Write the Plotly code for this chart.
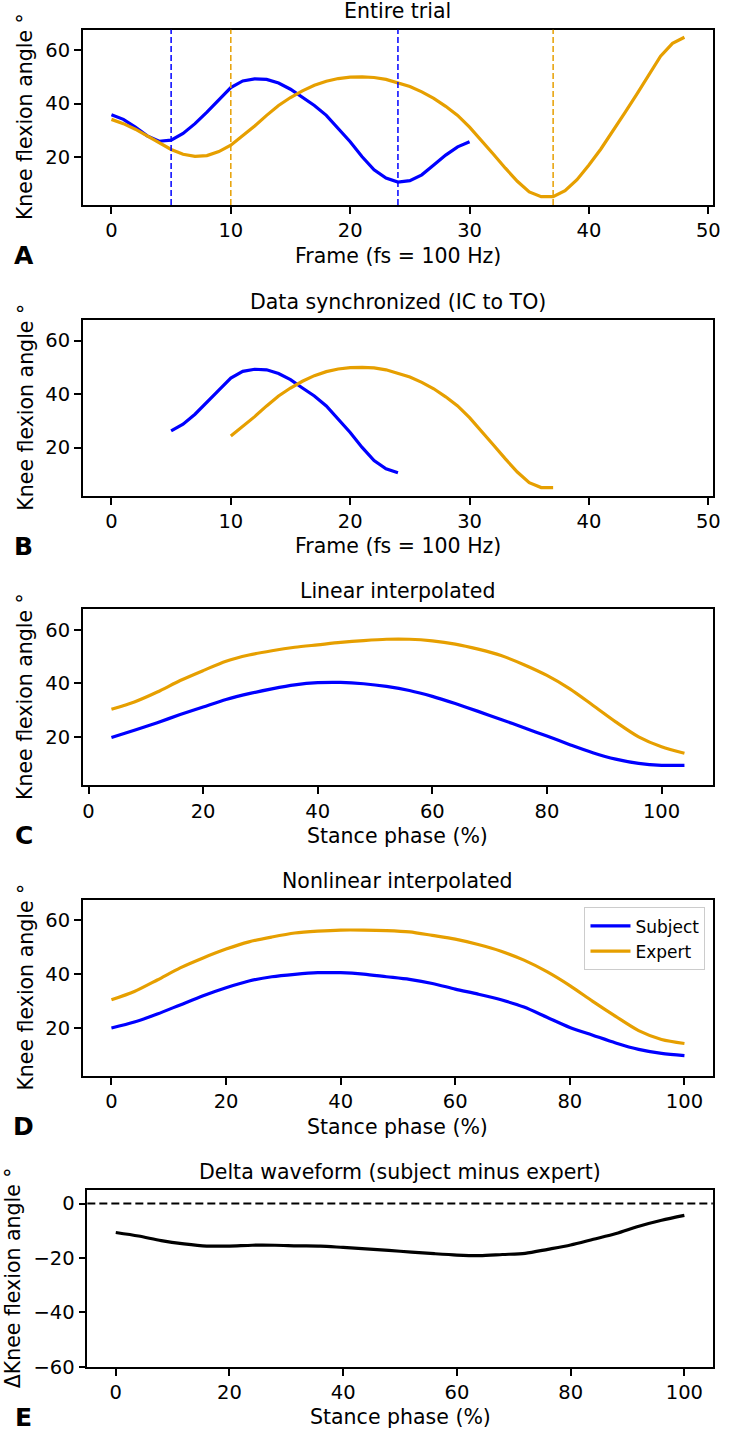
import plotly.graph_objects as go

W, H = 730, 1443

# ---------------- data ----------------
subject_frames = [0, 1, 2, 3, 4, 5, 6, 7, 8, 9, 10, 11, 12, 13, 14, 15, 16, 17, 18, 19,
                  20, 21, 22, 23, 24, 25, 26, 27, 28, 29, 30]
subject_trial = [35.8, 34.1, 31.2, 27.9, 25.9, 26.3, 28.8, 32.5, 36.8, 41.5, 46.0, 48.5,
                 49.3, 49.1, 47.7, 45.4, 42.3, 39.3, 35.6, 30.6, 25.7, 20.1, 15.2, 12.1,
                 10.6, 11.1, 13.3, 17.0, 20.7, 23.8, 25.7]
expert_frames = [0, 1, 2, 3, 4, 5, 6, 7, 8, 9, 10, 11, 12, 13, 14, 15, 16, 17, 18, 19,
                 20, 21, 22, 23, 24, 25, 26, 27, 28, 29, 30, 31, 32, 33, 34, 35, 36, 37,
                 38, 39, 40, 41, 42, 43, 44, 45, 46, 47, 48]
expert_trial = [34.1, 32.5, 30.4, 27.9, 25.4, 22.8, 21.0, 20.2, 20.5, 22.0, 24.4, 27.9,
                31.6, 35.6, 39.3, 42.3, 44.8, 46.9, 48.4, 49.4, 49.9, 50.0, 49.8, 49.1,
                47.9, 46.4, 44.4, 42.0, 39.0, 35.6, 31.2, 26.3, 21.0, 15.8, 10.9, 6.9,
                5.1, 5.1, 7.4, 11.5, 17.0, 23.0, 29.5, 36.5, 43.5, 50.8, 57.8, 62.6, 64.9]
subject_events = [5, 24]   # IC, TO frames
expert_events = [10, 37]

stance_lin = [4, 8, 12, 16, 20, 24, 28, 32, 36, 40, 44, 48, 52, 56, 60, 64, 68, 72, 76,
              80, 84, 88, 92, 96, 100, 104]
subject_lin = [19.9, 22.6, 25.4, 28.4, 31.2, 34.0, 36.2, 38.0, 39.5, 40.3, 40.4, 39.9,
               38.9, 37.4, 35.2, 32.5, 29.6, 26.6, 23.5, 20.4, 17.2, 14.2, 11.8, 10.2,
               9.5, 9.5]
expert_lin = [30.4, 33.1, 36.8, 41.1, 44.8, 48.3, 50.6, 52.2, 53.5, 54.4, 55.3, 56.0,
              56.5, 56.5, 55.9, 54.7, 52.8, 50.4, 47.0, 43.0, 38.0, 31.9, 25.7, 20.1,
              16.4, 14.0]

stance_nl = [0, 4, 8, 12, 16, 20, 24, 28, 32, 36, 40, 44, 48, 52, 56, 60, 64, 68, 72,
             76, 80, 84, 88, 92, 96, 100]
subject_nl = [19.9, 22.1, 25.1, 28.5, 31.9, 34.9, 37.4, 39.0, 39.9, 40.5, 40.5, 40.0,
              39.0, 38.0, 36.5, 34.4, 32.5, 30.4, 27.7, 23.9, 20.1, 17.2, 14.3, 11.9,
              10.4, 9.6]
expert_nl = [30.4, 33.5, 37.8, 42.3, 46.0, 49.3, 52.0, 53.8, 55.3, 56.0, 56.4, 56.4,
             56.2, 55.7, 54.4, 53.0, 51.0, 48.5, 45.2, 40.9, 35.7, 29.8, 24.2, 18.9,
             15.6, 14.1]
delta_nl = [-10.6, -11.9, -13.6, -14.8, -15.6, -15.6, -15.3, -15.3, -15.5, -15.6, -16.1,
            -16.6, -17.2, -17.8, -18.4, -18.9, -19.1, -18.7, -18.3, -16.8, -15.2, -13.1,
            -11.0, -8.3, -6.1, -4.3]

# ---------------- styling ----------------
BLUE = "#0000FF"
ORANGE = "#E69F00"
FONT = "DejaVu Sans"
FS_TICK = 19.5
FS_LABEL = 20.5
FS_LEGEND = 17
LW = 3.2


def fy(p):
    return 1 - p / H


def fx(p):
    return p / W


# panel geometry in pixels: (left, right, top, bottom)
panels = [
    (83.7, 721.0, 30.0, 206.7),
    (83.7, 721.0, 322.7, 500.0),
    (83.7, 721.0, 614.3, 792.0),
    (83.7, 721.0, 907.3, 1085.0),
    (88.3, 720.7, 1200.0, 1378.3),
]
titles = ["Entire trial", "Data synchronized (IC to TO)", "Linear interpolated",
          "Nonlinear interpolated", "Delta waveform (subject minus expert)"]
xlabels = ["Frame (fs = 100 Hz)", "Frame (fs = 100 Hz)", "Stance phase (%)",
           "Stance phase (%)", "Stance phase (%)"]
ylabels = ["Knee flexion angle °"] * 4 + ["ΔKnee flexion angle °"]
letters = ["A", "B", "C", "D", "E"]
xranges = [[-2.4, 50.4], [-2.4, 50.4], [-1.0, 109.0], [-5.0, 105.0], [-5.0, 105.0]]
yranges = [[2.0, 67.7], [2.0, 67.7], [2.0, 67.7], [2.0, 67.7], [-60.0, 5.0]]
xticks = [[0, 10, 20, 30, 40, 50], [0, 10, 20, 30, 40, 50], [0, 20, 40, 60, 80, 100],
          [0, 20, 40, 60, 80, 100], [0, 20, 40, 60, 80, 100]]
yticks = [[20, 40, 60]] * 4 + [[-60, -40, -20, 0]]
ylabel_x = [26, 26, 26, 26, 14]

fig = go.Figure()


def add(x, y, color, idx, name=None, legend=False, shape="linear", width=LW):
    sfx = "" if idx == 0 else str(idx + 1)
    fig.add_trace(go.Scatter(
        x=x, y=y, mode="lines", name=name, showlegend=legend,
        line=dict(color=color, width=width, shape=shape, smoothing=0.8 if shape == "spline" else None),
        xaxis="x" + sfx, yaxis="y" + sfx, hoverinfo="skip"))


# A: entire trial
add(subject_frames, subject_trial, BLUE, 0)
add(expert_frames, expert_trial, ORANGE, 0)

# B: synchronized IC -> TO
s0, s1 = subject_events
e0, e1 = expert_events
add(subject_frames[s0:s1 + 1], subject_trial[s0:s1 + 1], BLUE, 1)
add(expert_frames[e0:e1 + 1], expert_trial[e0:e1 + 1], ORANGE, 1)

# C: linear interpolated
add(stance_lin, subject_lin, BLUE, 2, shape="spline")
add(stance_lin, expert_lin, ORANGE, 2, shape="spline")

# D: nonlinear interpolated
add(stance_nl, subject_nl, BLUE, 3, name="Subject", legend=True, shape="spline")
add(stance_nl, expert_nl, ORANGE, 3, name="Expert", legend=True, shape="spline")

# E: delta
add(stance_nl, delta_nl, "black", 4, shape="spline")

layout = dict(
    width=W, height=H, autosize=False,
    margin=dict(l=0, r=0, t=0, b=0, pad=0),
    paper_bgcolor="white", plot_bgcolor="white",
    font=dict(family=FONT, size=FS_TICK, color="black"),
    showlegend=True,
    legend=dict(
        x=fx(713.3), y=fy(915.0), xanchor="right", yanchor="top",
        bgcolor="rgba(255,255,255,0.8)", bordercolor="#cccccc", borderwidth=1,
        font=dict(family=FONT, size=FS_LEGEND, color="black"),
        tracegroupgap=0, itemwidth=40,
    ),
)

annotations = []
shapes = []
for i, (l, r, t, b) in enumerate(panels):
    sfx = "" if i == 0 else str(i + 1)
    axis_common = dict(
        showgrid=False, zeroline=False, showline=True, linecolor="black", linewidth=1.5,
        mirror=True, ticks="outside", ticklen=7, tickwidth=1.5, tickcolor="black",
        tickfont=dict(family=FONT, size=FS_TICK, color="black"),
    )
    layout["xaxis" + sfx] = dict(
        domain=[fx(l), fx(r)], anchor="y" + sfx, range=xranges[i],
        tickmode="array", tickvals=xticks[i], **axis_common)
    layout["yaxis" + sfx] = dict(
        domain=[fy(b), fy(t)], anchor="x" + sfx, range=yranges[i],
        tickmode="array", tickvals=yticks[i], **axis_common)
    cx = (l + r) / 2
    annotations.append(dict(text=titles[i], x=fx(cx), y=fy(t - 18.5), xref="paper", yref="paper",
                            xanchor="center", yanchor="middle", showarrow=False,
                            font=dict(family=FONT, size=FS_LABEL, color="black")))
    annotations.append(dict(text=xlabels[i], x=fx(cx), y=fy(b + 51.0), xref="paper", yref="paper",
                            xanchor="center", yanchor="middle", showarrow=False,
                            font=dict(family=FONT, size=FS_LABEL, color="black")))
    annotations.append(dict(text=ylabels[i], x=fx(ylabel_x[i]), y=fy((t + b) / 2 - 1), xref="paper",
                            yref="paper", xanchor="center", yanchor="middle", textangle=-90,
                            showarrow=False, font=dict(family=FONT, size=FS_LABEL, color="black")))
    annotations.append(dict(text=letters[i], x=fx(24), y=fy(b + 51.0),
                            xref="paper", yref="paper", xanchor="center", yanchor="middle",
                            showarrow=False,
                            font=dict(family=FONT, size=25, color="black", weight="bold")))

# event lines in panel A
for ev in subject_events:
    shapes.append(dict(type="line", xref="x", yref="y domain", x0=ev, x1=ev, y0=0, y1=1,
                       line=dict(color=BLUE, width=1.5, dash="6px,3px")))
for ev in expert_events:
    shapes.append(dict(type="line", xref="x", yref="y domain", x0=ev, x1=ev, y0=0, y1=1,
                       line=dict(color=ORANGE, width=1.5, dash="6px,3px")))
# zero line in panel E
shapes.append(dict(type="line", xref="x5 domain", yref="y5", x0=0, x1=1, y0=0, y1=0,
                   line=dict(color="black", width=2, dash="8px,4px")))

layout["annotations"] = annotations
layout["shapes"] = shapes
fig.update_layout(**layout)

fig.write_html(
    "out.html", config={"displayModeBar": False},
    post_script=(
        "document.documentElement.style.margin='0px';"
        "document.documentElement.style.padding='0px';"
        "document.documentElement.style.overflow='hidden';"
        "document.body.style.margin='0px';"
        "document.body.style.padding='0px';"
        "document.body.style.overflow='hidden';"
        "var gd=document.getElementById('{plot_id}');"
        "gd.style.position='fixed';gd.style.left='0px';gd.style.top='0px';"
    ))
